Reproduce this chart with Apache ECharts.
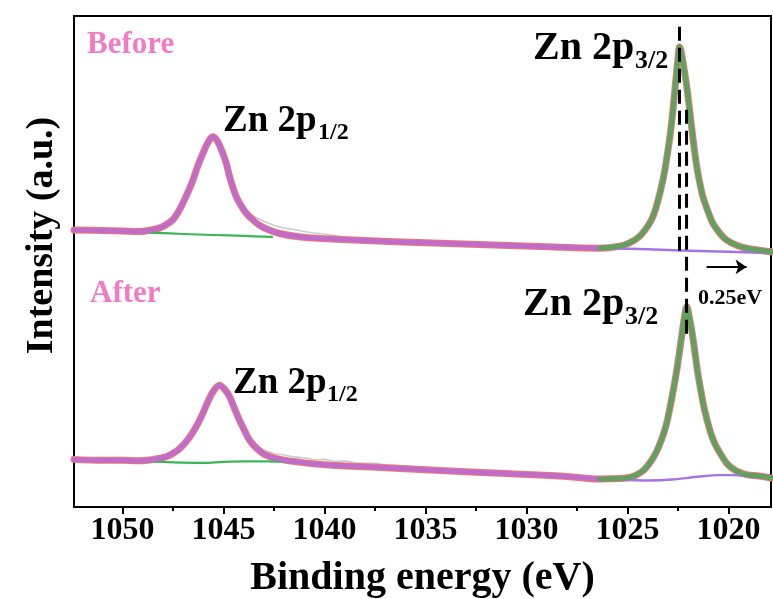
<!DOCTYPE html>
<html><head><meta charset="utf-8">
<script src="https://cdn.jsdelivr.net/npm/echarts@6/dist/echarts.min.js"></script>
<style>html,body{margin:0;padding:0;background:#fff}#c{width:773px;height:599px}</style>
</head><body><div id="c"></div>
<script>
// ---- data (binding energy eV, intensity a.u.) ----
const tickLabels = [1050, 1045, 1040, 1035, 1030, 1025, 1020];
const minorTicks = [1047.5, 1042.5, 1037.5, 1032.5, 1027.5, 1022.5];

const beforeRaw = [
 [1052.4,56.5],[1052.0,56.6],[1051.5,56.3],[1051.0,56.4],[1050.5,56.2],[1050.0,56.4],[1049.5,56.1],[1049.0,56.3],
 [1048.5,56.6],[1048.0,57.2],[1047.5,58.7],[1047.0,62.0],[1046.5,66.9],[1046.0,72.3],[1045.75,74.8],[1045.5,76.0],
 [1045.25,74.9],[1045.0,72.3],[1044.5,64.8],[1044.0,60.9],[1043.5,59.2],[1043.0,58.2],[1042.5,57.4],[1042.0,56.8],
 [1041.5,56.5],[1041.0,56.1],[1040.5,55.8],[1040.0,55.6],[1039.5,55.3],[1039.0,55.0],[1038.5,54.8],[1038.0,54.6],
 [1037.5,54.3],[1037.0,54.2],[1036.0,54.0],[1035.0,53.8],[1034.0,53.6],[1033.0,53.5],[1032.0,53.4],[1031.0,53.2],
 [1030.0,53.1],[1029.0,53.0],[1028.0,52.9],[1027.0,52.8],[1026.0,52.9],[1025.0,53.4],[1024.5,54.8],[1024.0,57.3],
 [1023.5,62.4],[1023.0,72.5],[1022.75,81.3],[1022.5,92.0],[1022.4,94.2],[1022.25,91.0],[1022.0,83.0],[1021.5,67.7],
 [1021.0,60.2],[1020.5,56.1],[1020.0,54.3],[1019.5,53.3],[1019.0,52.8],[1018.5,52.4],[1017.9,52.1]
];
const beforeFit = [
 [1052.4,56.4],[1051.0,56.3],[1050.0,56.2],[1049.2,56.1],[1048.6,56.4],[1048.17,56.8],[1047.8,57.6],[1047.51,58.5],
 [1047.25,60.0],[1047.01,61.9],[1046.75,64.2],[1046.52,66.5],[1046.27,69.5],[1046.02,72.0],[1045.75,74.4],[1045.53,75.4],
 [1045.3,74.5],[1045.03,72.0],[1044.85,69.8],[1044.7,67.3],[1044.37,63.2],[1044.1,61.2],[1043.87,59.8],[1043.5,58.3],
 [1043.22,57.4],[1042.8,56.5],[1042.23,55.7],[1041.2,55.0],[1040.2,54.7],[1038.0,54.3],[1035.0,53.8],[1032.0,53.4],
 [1029.0,53.0],[1026.4,52.7],[1025.4,53.1],[1024.9,53.8],[1024.41,55.1],[1024.0,57.2],[1023.75,59.1],[1023.5,62.3],
 [1023.25,66.6],[1023.1,70.0],[1022.9,75.5],[1022.75,81.0],[1022.6,87.5],[1022.5,91.5],[1022.43,93.7],[1022.35,92.8],
 [1022.2,89.2],[1022.05,85.0],[1021.85,78.1],[1021.6,70.0],[1021.4,65.5],[1021.27,63.2],[1021.0,60.0],[1020.78,57.8],
 [1020.4,55.6],[1020.11,54.4],[1019.6,53.3],[1019.12,52.7],[1018.5,52.3],[1017.9,52.0]
];
const before12Bg = [[1048.7,55.9],[1047.0,55.6],[1045.5,55.4],[1044.0,55.2],[1042.6,55.0]];
const before32Bg = [[1026.4,52.7],[1024.0,52.5],[1022.0,52.2],[1020.0,52.0],[1017.9,51.7]];

const afterRaw = [
 [1052.4,9.8],[1052.0,9.7],[1051.5,9.9],[1051.0,9.6],[1050.5,9.8],[1050.0,9.5],[1049.5,9.7],[1049.0,9.6],
 [1048.5,10.2],[1048.0,10.4],[1047.5,11.2],[1047.0,12.6],[1046.5,15.4],[1046.0,19.5],[1045.5,23.8],[1045.2,25.1],
 [1045.0,24.4],[1044.5,20.4],[1044.0,15.8],[1043.5,13.0],[1043.0,11.6],[1042.5,10.9],[1042.0,10.6],[1041.5,10.2],
 [1041.0,10.0],[1040.5,9.6],[1040.0,9.7],[1039.5,9.3],[1039.0,9.4],[1038.5,9.0],[1038.0,8.9],[1037.5,8.9],
 [1037.0,8.6],[1036.5,8.5],[1036.0,8.4],[1035.5,8.2],[1035.0,8.1],[1034.0,7.8],[1033.0,7.5],[1032.0,7.1],
 [1031.0,6.9],[1030.0,6.7],[1029.0,6.4],[1028.0,6.2],[1027.0,6.0],[1026.0,5.8],[1025.5,6.0],[1025.0,6.2],
 [1024.5,6.8],[1024.0,8.6],[1023.5,11.9],[1023.0,18.3],[1022.75,23.6],[1022.5,29.8],[1022.25,37.3],[1022.07,41.0],
 [1021.9,38.0],[1021.75,34.2],[1021.5,27.0],[1021.0,17.0],[1020.5,11.4],[1020.0,8.7],[1019.5,7.4],[1019.0,6.6],
 [1018.5,6.2],[1017.9,5.9]
];
const afterFit = [
 [1052.4,9.7],[1051.0,9.5],[1050.0,9.5],[1049.2,9.4],[1048.6,9.6],[1048.17,9.9],[1047.8,10.3],[1047.51,10.9],
 [1047.2,11.8],[1046.85,13.3],[1046.55,15.0],[1046.27,17.0],[1046.0,19.3],[1045.78,21.4],[1045.5,23.6],[1045.2,24.8],
 [1044.95,24.0],[1044.7,22.5],[1044.45,20.0],[1044.21,17.7],[1043.95,15.5],[1043.71,13.6],[1043.4,12.1],[1043.05,10.9],
 [1042.6,10.1],[1042.06,9.6],[1041.2,9.1],[1040.0,8.6],[1037.0,8.0],[1034.0,7.4],[1031.0,6.8],[1028.0,6.2],
 [1026.4,5.7],[1025.4,5.8],[1024.9,6.0],[1024.57,6.5],[1024.2,7.5],[1023.91,8.9],[1023.6,11.0],[1023.33,13.6],
 [1023.1,16.5],[1022.92,19.8],[1022.75,23.5],[1022.59,27.2],[1022.45,31.0],[1022.3,35.4],[1022.18,38.8],[1022.07,40.8],
 [1021.95,38.8],[1021.8,35.4],[1021.65,31.0],[1021.52,27.2],[1021.35,23.2],[1021.19,19.8],[1020.95,16.0],[1020.69,13.0],
 [1020.35,10.5],[1020.03,8.6],[1019.6,7.3],[1019.12,6.6],[1018.5,6.3],[1017.9,5.9]
];
const after12Bg = [[1048.8,9.3],[1047.5,9.1],[1046.0,9.0],[1045.0,9.2],[1044.0,9.3],[1042.8,9.3],[1041.6,9.1]];
const after32Bg = [[1026.4,5.6],[1025.0,5.5],[1023.9,5.4],[1022.8,5.6],[1021.4,6.2],[1020.5,6.5],[1019.8,6.5],[1018.8,6.1],[1017.9,5.8]];

const peakBefore = [[1022.43,97.8],[1022.43,50.9]];
const peakAfter = [[1022.08,80.9],[1022.08,34.0]];
const shiftArrow = [[1021.09,48.9],[1019.11,48.9]];
const splitE = 1026.4;

// ---- styling ----
const FONT = '"Liberation Serif","Times New Roman",serif';
const PINK = '#f27cc4';
const C_RAW = '#cdcdcd', C_ENV = '#ea7a7a', C_P = '#c16cc8', C_G = '#5fa25f', C_GBG = '#3cb55a', C_PBG = '#a673e6';

function ln(data, color, width, z, smooth, dash) {
  return {type:'line', data, symbol:'none', showSymbol:false, smooth: smooth ? 0.35 : false,
    lineStyle:{color, width, type: dash || 'solid', cap: dash ? 'butt' : 'round', join:'round'},
    z, silent:true, animation:false, clip:true};
}
const series = [];
[[beforeRaw, beforeFit, before12Bg, before32Bg], [afterRaw, afterFit, after12Bg, after32Bg]].forEach(([raw, fit, bg12, bg32]) => {
  series.push(ln(raw, C_RAW, 1.6, 1, false));
  series.push(ln(fit, C_ENV, 7, 2, true));
  series.push(ln(bg12, C_GBG, 2.2, 3, true));
  series.push(ln(bg32, C_PBG, 2.4, 3, true));
  series.push(ln(fit.filter(p => p[0] >= splitE), C_P, 5, 4, true));
  series.push(ln(fit.filter(p => p[0] <= splitE), C_G, 5, 4, true));
});
series.push(ln(peakBefore, '#000', 3, 6, false, [14, 7]));
series.push(ln(peakAfter, '#000', 3, 6, false, [14, 7]));
series.push({type:'lines', coordinateSystem:'cartesian2d', z:6, silent:true, animation:false,
  symbol:['none','arrow'], symbolSize:[0, 11],
  lineStyle:{color:'#000', width:2, opacity:1},
  data:[{coords: shiftArrow}]});

function txt(x, y, text, size, color) {
  return {type:'text', x, y, silent:true, z:10,
    style:{text, font:`bold ${size}px ${FONT}`, fill: color || '#000', verticalAlign:'middle', align:'left'}};
}

const chart = echarts.init(document.getElementById('c'), null, {renderer:'canvas'});
chart.setOption({
  backgroundColor:'#fff',
  animation:false,
  grid:{left:74, right:2, top:16, bottom:92, show:true, borderColor:'#000', borderWidth:2, containLabel:false, outerBoundsMode:'none'},
  xAxis:[{
    type:'value', inverse:true, min:1017.9, max:1052.4,
    name:'Binding energy (eV)', nameLocation:'middle', nameGap:52,
    nameTextStyle:{fontFamily:FONT, fontWeight:'bold', fontSize:40, color:'#000'},
    axisLine:{show:true, onZero:false, lineStyle:{color:'#000', width:2}},
    axisTick:{show:true, inside:false, length:7, lineStyle:{color:'#000', width:2}, customValues: tickLabels},
    axisLabel:{show:true, customValues: tickLabels, formatter: v => String(v), margin:8,
      fontFamily:FONT, fontWeight:'bold', fontSize:32, color:'#000'},
    splitLine:{show:false}
  },{
    type:'value', inverse:true, min:1017.9, max:1052.4, position:'bottom',
    axisLine:{show:false}, axisLabel:{show:false}, splitLine:{show:false},
    axisTick:{show:true, inside:false, length:4, lineStyle:{color:'#000', width:2}, customValues: minorTicks}
  }],
  yAxis:{
    type:'value', min:0, max:100,
    name:'Intensity (a.u.)', nameLocation:'middle', nameGap:13, nameRotate:90,
    nameTextStyle:{fontFamily:FONT, fontWeight:'bold', fontSize:38, color:'#000', padding:[0,0,0,52]},
    axisLine:{show:true, onZero:false, lineStyle:{color:'#000', width:2}},
    axisTick:{show:false}, axisLabel:{show:false}, splitLine:{show:false}
  },
  series,
  graphic:[
    txt(87, 45, 'Before', 31, PINK),
    txt(90, 294, 'After', 31, PINK),
    txt(223, 121, 'Zn 2p', 37), txt(318, 133, '1/2', 24),
    txt(533, 48.5, 'Zn 2p', 40), txt(635, 61, '3/2', 26),
    txt(233, 383, 'Zn 2p', 37), txt(327, 395, '1/2', 24),
    txt(523, 304.5, 'Zn 2p', 40), txt(625, 317, '3/2', 26),
    txt(698, 298, '0.25eV', 22)
  ]
});
</script></body></html>
